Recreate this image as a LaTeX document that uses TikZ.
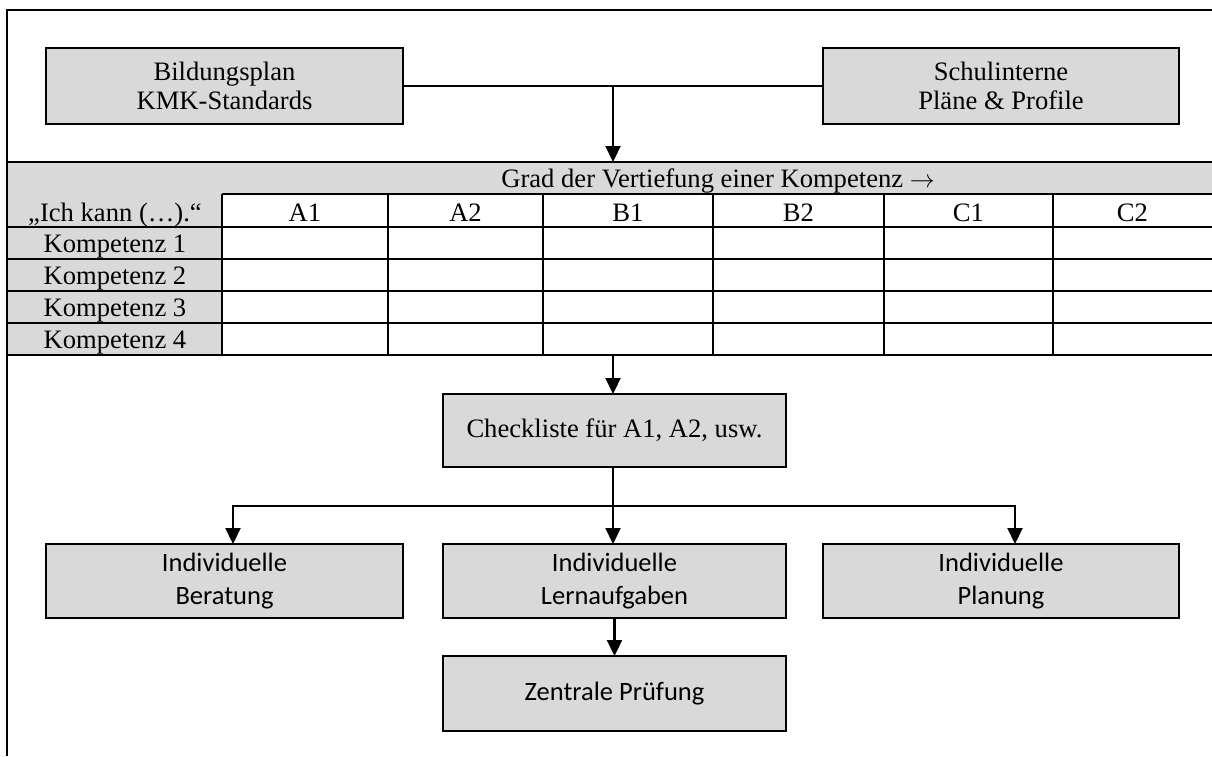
\documentclass[tikz,border=0pt]{standalone}
\usepackage{fontspec}
\setmainfont{Liberation Serif}
\newfontfamily\calibfont{Carlito}
\usetikzlibrary{arrows.meta}
\definecolor{cellgray}{HTML}{D9D9D9}

\begin{document}
\begin{tikzpicture}[x=1pt,y=-1pt,
  line width=2.2pt,
  serif/.style={font=\fontsize{26.6}{29}\selectfont},
  sans/.style={font=\calibfont\fontsize{26.5}{33}\selectfont},
  box/.style={draw, fill=cellgray, inner sep=0pt, outer sep=0pt, align=center},
  cell/.style={anchor=base, inner sep=0pt, outer sep=0pt, serif},
  flow/.style={-{Triangle[width=15pt,length=16pt]}, line width=2.2pt},
]
\useasboundingbox (0,0) rectangle (1212,756);

% outer frame (top and left edge)
\draw (1212,10) -- (7,10) -- (7,756);

% source boxes
\node[box, serif, minimum width=357pt, minimum height=76pt] (bild) at (224.5,86)
  {Bildungsplan\\KMK-Standards};
\node[box, serif, minimum width=356pt, minimum height=76pt] (schul) at (1001,86)
  {Schulinterne\\Pläne \& Profile};

% competence grid: shaded header band and first column
\fill[cellgray] (8,162) rectangle (1212,194);
\fill[cellgray] (8,194) rectangle (222,355);
\foreach \ry in {162,227,259,291,323,355}
  \draw (7,\ry) -- (1212,\ry);
\draw (222,194) -- (1212,194);
\foreach \cx in {222,388,543,713,884,1053}
  \draw (\cx,194) -- (\cx,355);

\node[cell] (hdr) at (718,187) {Grad der Vertiefung einer Kompetenz $\rightarrow$};
\node[cell] (ich) at (115,221) {„Ich kann (…).“};
\foreach \lv/\lx in {A1/305, A2/465.5, B1/628, B2/798.5, C1/968.5, C2/1132.5}
  \node[cell] (lvl\lv) at (\lx,221) {\lv};
\foreach \i/\ky in {1/252, 2/284, 3/316, 4/348}
  \node[cell] (komp\i) at (115,\ky) {Kompetenz \i};

\coordinate (topjoin) at (613,86);
\coordinate (tabtop) at (613,162);
\coordinate (tabbot) at (613,355);

% checklist and derived boxes
\node[box, serif, minimum width=343pt, minimum height=73pt] (check) at (614.5,430.5)
  {Checkliste für A1, A2, usw.};
\node[box, sans, minimum width=357pt, minimum height=74pt] (ber) at (224.5,581)
  {Individuelle\\Beratung};
\node[box, sans, minimum width=343pt, minimum height=74pt] (lern) at (614.5,581)
  {Individuelle\\Lernaufgaben};
\node[box, sans, minimum width=356pt, minimum height=74pt] (plan) at (1001,581)
  {Individuelle\\Planung};
\node[box, sans, minimum width=343pt, minimum height=75pt] (zent) at (614.5,693.5)
  {Zentrale Prüfung};

\coordinate (split) at (613,506);
\coordinate (splitl) at (233,506);
\coordinate (splitr) at (1015,506);

% connectors
\draw (bild.east) -- (schul.west);
\draw[flow] (topjoin) -- (tabtop);
\draw[flow] (tabbot) -- (tabbot |- check.north);
\draw (check.south -| split) -- (split);
\draw[flow] (split) -- (splitl) -- (splitl |- ber.north);
\draw[flow] (split) -- (splitr) -- (splitr |- plan.north);
\draw[flow] (split) -- (split |- lern.north);
\draw[flow] (lern.south -| zent.north) -- (zent.north);
\end{tikzpicture}
\end{document}
